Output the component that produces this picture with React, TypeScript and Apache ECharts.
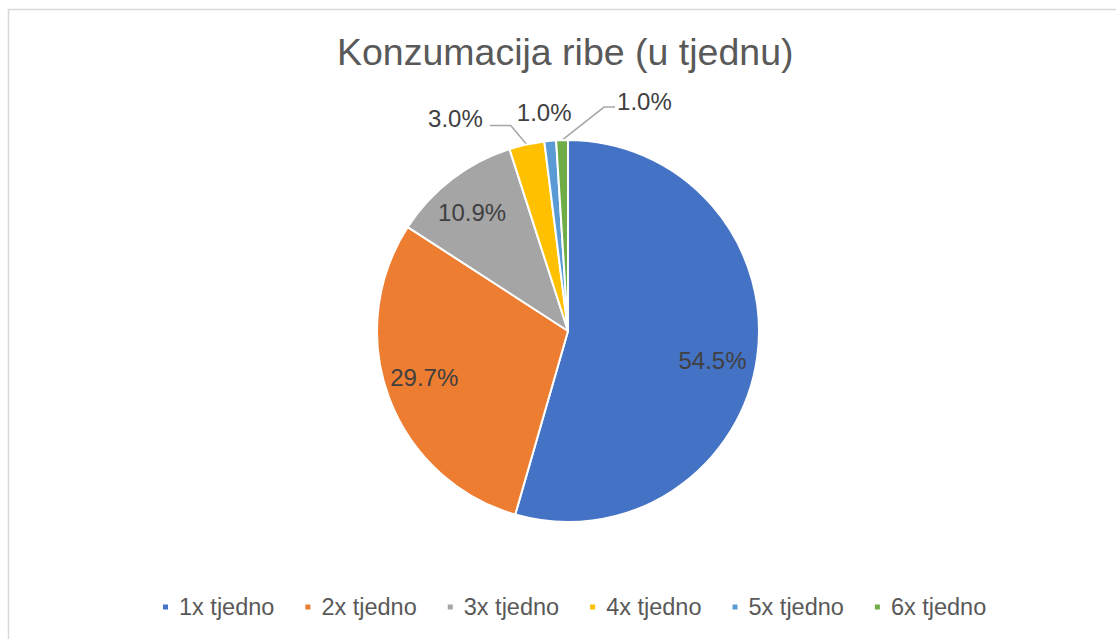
import React, { useEffect, useRef } from 'react';
import * as echarts from 'echarts';

const titleText = 'Konzumacija ribe (u tjednu)';
const categories = ['1x tjedno', '2x tjedno', '3x tjedno', '4x tjedno', '5x tjedno', '6x tjedno'];
const counts = [55, 30, 11, 3, 1, 1];
const colors = ['#4472C4', '#ED7D31', '#A5A5A5', '#FFC000', '#5B9BD5', '#70AD47'];

// label style offsets (px) relative to library positions
const insideShift = [[47, 16], [-51.5, 12], [-36, -40.5]];

const FONT = 'Liberation Sans, Arial, sans-serif';

export default function App() {
  const ref = useRef<HTMLDivElement>(null);
  useEffect(() => {
    if (!ref.current) return;
    const chart = echarts.init(ref.current, null, { renderer: 'svg' });
    const total = counts.reduce((a, b) => a + b, 0);
    const data = categories.map((name, i) => ({
      name,
      value: counts[i],
      label: { position: i < 3 ? 'inside' : 'outside' },
      labelLine: {
        show: i >= 3,
        lineStyle: i === 4 ? { opacity: 0 } : {},
      },
    }));
    chart.setOption({
      animation: false,
      color: colors,
      graphic: [
        {
          type: 'rect',
          silent: true,
          z: -10,
          shape: { x: 8.5, y: 9.5, width: 1200, height: 700 },
          style: { fill: 'none', stroke: '#D9D9D9', lineWidth: 1.5 },
        },
      ],
      title: {
        text: titleText,
        left: 337,
        top: 33,
        padding: 0,
        textStyle: { fontFamily: FONT, fontSize: 37.5, fontWeight: 'normal', color: '#595959' },
      },
      legend: {
        left: 161,
        top: 595,
        padding: 0,
        icon: 'rect',
        itemWidth: 7,
        itemHeight: 7,
        itemGap: 29,
        data: categories,
        textStyle: { fontFamily: FONT, fontSize: 23.5, color: '#595959', padding: [0, 0, 0, 5] },
      },
      series: [
        {
          type: 'pie',
          center: [568, 331],
          radius: [0, 191],
          startAngle: 90,
          clockwise: true,
          avoidLabelOverlap: false,
          itemStyle: { borderColor: '#FFFFFF', borderWidth: 2 },
          label: {
            fontFamily: FONT,
            fontSize: 24,
            color: '#404040',
            formatter: (p: any) => ((p.value / total) * 100).toFixed(1) + '%',
          },
          labelLine: {
            length: 20,
            length2: 20,
            lineStyle: { color: '#A6A6A6', width: 1.5 },
          },
          labelLayout: (params: any) => {
            const i = params.dataIndex;
            if (i < 3) return { dx: insideShift[i][0], dy: insideShift[i][1] };
            const pts = params.labelLinePoints;
            if (!pts || !pts[0]) return {};
            const p0 = pts[0];
            if (i === 3) {
              const p1 = [p0[0] - 16, p0[1] - 19];
              const p2 = [p1[0] - 21, p1[1]];
              return { x: p2[0] - 7, y: p1[1] - 7.5, align: 'right', verticalAlign: 'middle', labelLinePoints: [p0, p1, p2] };
            }
            if (i === 4) {
              return { x: p0[0] - 6, y: p0[1] - 28.5, align: 'center', verticalAlign: 'middle', labelLinePoints: [p0, p0, p0] };
            }
            const p1 = [p0[0] + 42, p0[1] - 33];
            const p2 = [p1[0] + 11, p1[1]];
            return { x: p2[0] + 2, y: p1[1] - 5.5, align: 'left', verticalAlign: 'middle', labelLinePoints: [p0, p1, p2] };
          },
          data,
        },
      ],
    });
    return () => chart.dispose();
  }, []);
  return <div ref={ref} style={{ position: 'absolute', left: 0, top: 0, width: 1116, height: 639 }} />;
}
